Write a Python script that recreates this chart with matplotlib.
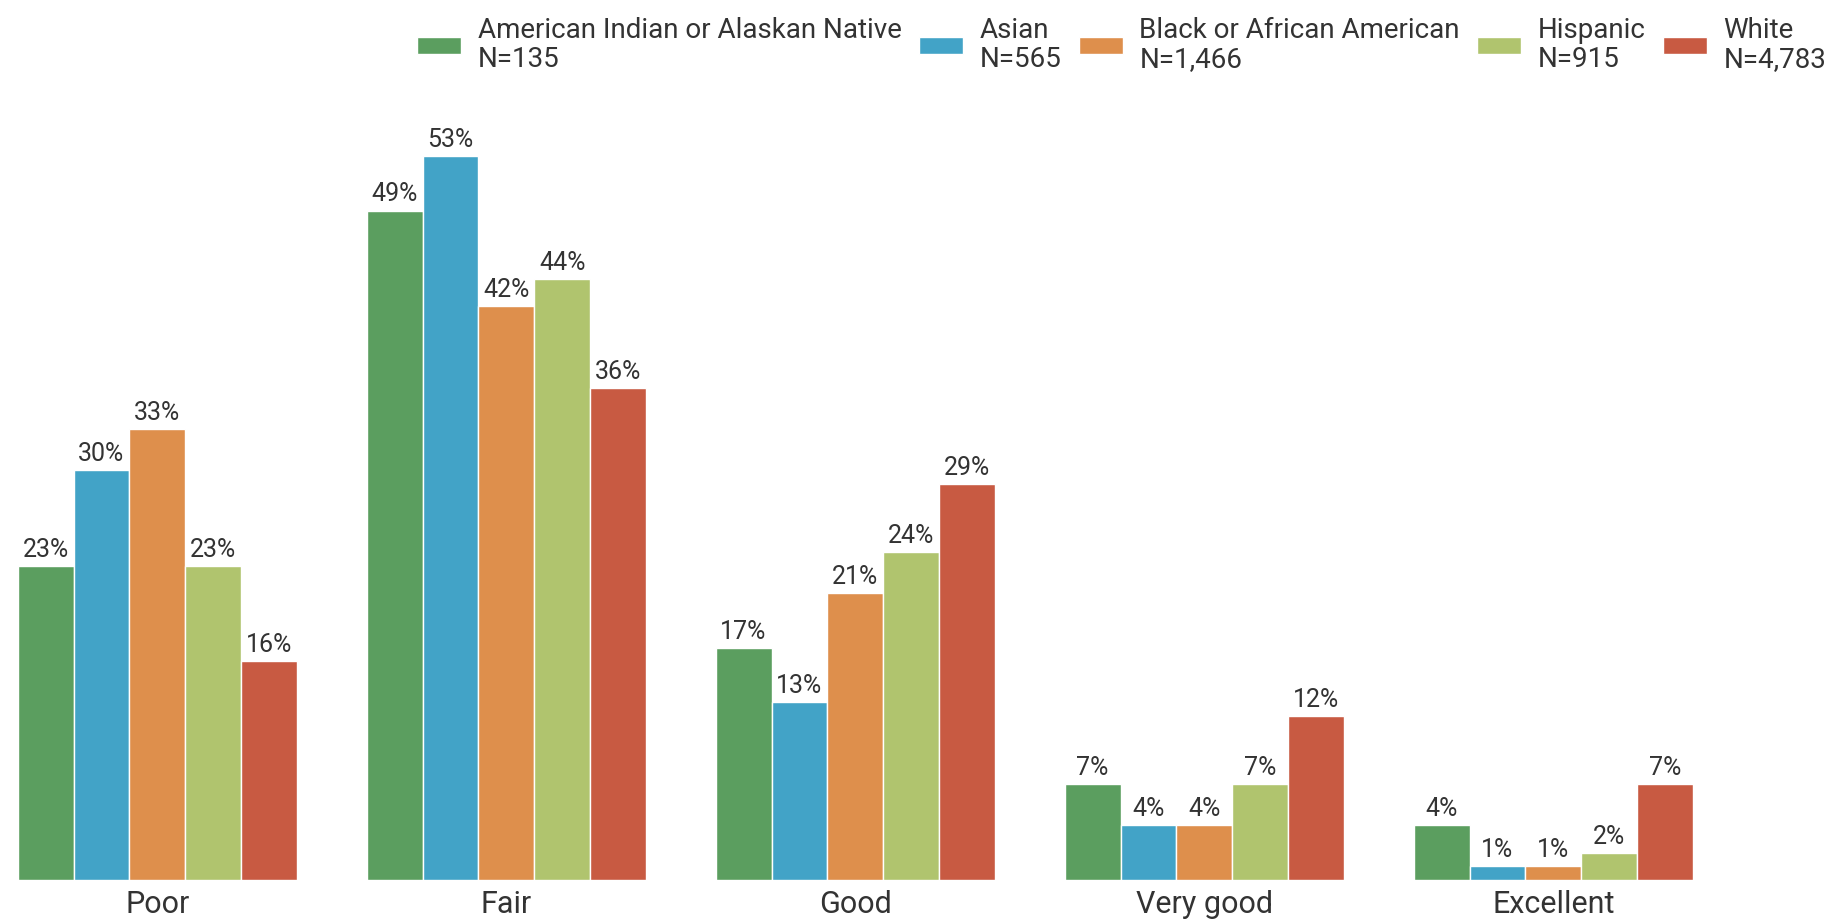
import matplotlib
matplotlib.use("Agg")
import matplotlib.pyplot as plt
import numpy as np

categories = ["Poor", "Fair", "Good", "Very good", "Excellent"]
groups = ["American Indian or Alaskan Native\nN=135", "Asian\nN=565",
          "Black or African American\nN=1,466", "Hispanic\nN=915", "White\nN=4,783"]
values = {
    "aian":     [23, 49, 17, 7, 4],
    "asian":    [30, 53, 13, 4, 1],
    "black":    [33, 42, 21, 4, 1],
    "hispanic": [23, 44, 24, 7, 2],
    "white":    [16, 36, 29, 12, 7],
}
colors = ["#5B9E5F", "#42A3C7", "#DE8F4C", "#B0C46E", "#C85A42"]

plt.rcParams['font.family'] = ['Roboto', 'DejaVu Sans']
text_color = "#333333"

fig = plt.figure(figsize=(18.45, 9.22), dpi=100)
W, H = 1845, 922
left_px, right_px = 17.7, 1692.9
base_px, per_pct = 880, 13.66
ymax = 55
ax = fig.add_axes([left_px / W, (H - base_px) / H, (right_px - left_px) / W, ymax * per_pct / H])

x = np.arange(len(categories))
bw = 0.16
for i, (key, lab, col) in enumerate(zip(values, groups, colors)):
    offs = (i - 2) * bw
    bars = ax.bar(x + offs, values[key], width=bw, color=col, edgecolor="white",
                  linewidth=1, label=lab)
    ax.bar_label(bars, labels=[f"{v}%" for v in values[key]], padding=3,
                 fontsize=18, color=text_color)

ax.set_xlim(-0.4, 4.4)
ax.set_ylim(0, ymax)
ax.set_xticks(x)
ax.set_xticklabels(categories, fontsize=22, color=text_color)
ax.tick_params(axis='x', length=0, pad=7)
ax.set_yticks([])
for s in ax.spines.values():
    s.set_visible(False)

leg = fig.legend(loc="upper right", bbox_to_anchor=(1826 / W, 1 - 17 / H), ncol=5,
                 frameon=False, fontsize=20, handlelength=1.58, handleheight=0.54,
                 handletextpad=0.6, columnspacing=0.62, borderpad=0, borderaxespad=0,
                 labelspacing=0.2)
for t in leg.get_texts():
    t.set_color(text_color)
    t.set_linespacing(1.1)

fig.savefig("out.png", dpi=100)
